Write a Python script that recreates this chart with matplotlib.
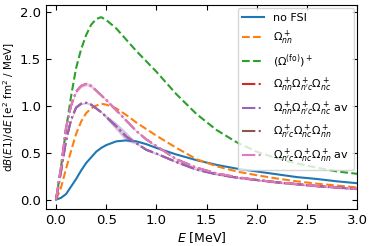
import numpy as np
import matplotlib
matplotlib.use("Agg")
import matplotlib.pyplot as plt

# Energy grid [MeV]
energy = [0.0, 0.05, 0.1, 0.15, 0.2, 0.25, 0.3, 0.35, 0.4, 0.45, 0.5, 0.6, 0.7, 0.8, 0.9,
          1.0, 1.2, 1.4, 1.6, 1.8, 2.0, 2.2, 2.4, 2.6, 2.8, 3.0]

# dB(E1)/dE curves
no_fsi = [0.0, 0.02, 0.06, 0.14, 0.22, 0.31, 0.39, 0.45, 0.51, 0.55, 0.58, 0.62, 0.63, 0.62, 0.59,
          0.55, 0.48, 0.42, 0.37, 0.33, 0.30, 0.27, 0.24, 0.22, 0.195, 0.175]
omega_nn = [0.0, 0.13, 0.33, 0.52, 0.70, 0.83, 0.92, 0.97, 1.0, 1.02, 1.01, 0.97, 0.90, 0.82, 0.75,
            0.68, 0.55, 0.43, 0.355, 0.30, 0.26, 0.225, 0.195, 0.17, 0.15, 0.13]
omega_fo = [0.0, 0.35, 0.75, 1.10, 1.40, 1.60, 1.75, 1.86, 1.92, 1.94, 1.91, 1.82, 1.70, 1.58, 1.47,
            1.36, 1.12, 0.91, 0.74, 0.61, 0.51, 0.44, 0.385, 0.34, 0.30, 0.275]
omega_3a = [0.0, 0.30, 0.63, 0.85, 0.98, 1.02, 1.03, 1.01, 0.97, 0.93, 0.88, 0.78, 0.67, 0.60, 0.53,
            0.49, 0.40, 0.32, 0.27, 0.235, 0.21, 0.185, 0.165, 0.145, 0.13, 0.115]
omega_3b = [0.0, 0.35, 0.77, 1.00, 1.15, 1.21, 1.23, 1.21, 1.16, 1.11, 1.06, 0.95, 0.84, 0.73, 0.64,
            0.57, 0.43, 0.34, 0.28, 0.24, 0.21, 0.185, 0.165, 0.145, 0.13, 0.115]
# half width of the averaged bands
band_3a = [0.0, 0.01, 0.01, 0.01, 0.01, 0.01, 0.01, 0.01, 0.01, 0.01, 0.02, 0.04, 0.05, 0.01, 0.01,
           0.01, 0.01, 0.01, 0.01, 0.01, 0.01, 0.01, 0.01, 0.01, 0.01, 0.01]
band_3b = [0.0, 0.01, 0.01, 0.015, 0.02, 0.02, 0.02, 0.02, 0.015, 0.015, 0.015, 0.015, 0.01, 0.01, 0.01,
           0.01, 0.01, 0.01, 0.01, 0.01, 0.01, 0.01, 0.01, 0.01, 0.01, 0.01]

labels = ['no FSI',
          r'$\Omega^+_{nn}$',
          r'$(\Omega^{(\mathrm{fo})})^+$',
          r'$\Omega^+_{nn}\Omega^+_{n^\prime c}\Omega^+_{nc}$',
          r'$\Omega^+_{nn}\Omega^+_{n^\prime c}\Omega^+_{nc}$ av',
          r'$\Omega^+_{n^\prime c}\Omega^+_{nc}\Omega^+_{nn}$',
          r'$\Omega^+_{n^\prime c}\Omega^+_{nc}\Omega^+_{nn}$ av']

E = np.array(energy)

fig = plt.figure(figsize=(3.74, 2.46), dpi=100)
ax = fig.add_axes([0.123, 0.150, 0.832, 0.830])

ax.plot(E, no_fsi, color='C0', ls='-', label=labels[0])
ax.plot(E, omega_nn, color='C1', ls='--', label=labels[1])
ax.plot(E, omega_fo, color='C2', ls='--', label=labels[2])
ax.plot(E, omega_3a, color='C3', ls='-.', label=labels[3])
ax.plot(E, omega_3a, color='C4', ls='-.', label=labels[4])
ax.fill_between(E, np.array(omega_3a) - band_3a, np.array(omega_3a) + band_3a,
                color='C4', alpha=0.4, lw=0)
ax.plot(E, omega_3b, color='C5', ls='-.', label=labels[5])
ax.plot(E, omega_3b, color='C6', ls='-.', label=labels[6])
ax.fill_between(E, np.array(omega_3b) - band_3b, np.array(omega_3b) + band_3b,
                color='C6', alpha=0.4, lw=0)

ax.set_xlim(-0.1, 3.0)
ax.set_ylim(-0.1, 2.07)
ax.set_xticks([0.0, 0.5, 1.0, 1.5, 2.0, 2.5, 3.0])
ax.set_yticks([0.0, 0.5, 1.0, 1.5, 2.0])
ax.tick_params(direction='in', top=True, right=True, labelsize=9.5)
ax.set_xlabel(r'$E$ [MeV]', fontsize=9, labelpad=2)
ax.set_ylabel(r'd$B(E1)$/d$E$ [e$^2$ fm$^2$ / MeV]', fontsize=7.5, labelpad=2)
ax.legend(loc='upper right', fontsize=8, framealpha=0.8, borderaxespad=0.3,
          handlelength=2.0, labelspacing=0.5)

fig.savefig('out.png', dpi=100)
